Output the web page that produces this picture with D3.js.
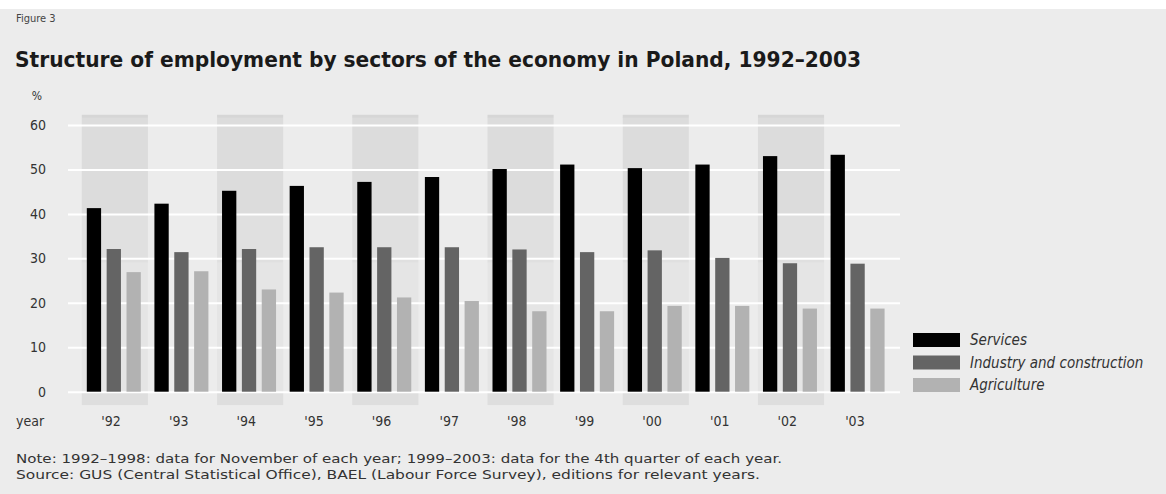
<!DOCTYPE html>
<html>
<head>
<meta charset="utf-8">
<script src="https://cdn.jsdelivr.net/npm/d3@7"></script>
<style>
  html, body { margin: 0; padding: 0; background: #ffffff; }
  svg { display: block; }
  text { font-stretch: condensed; }
</style>
</head>
<body>
<svg id="chart" width="1166" height="494"></svg>
<script>
const years = ["'92","'93","'94","'95","'96","'97","'98","'99","'00","'01","'02","'03"];
const seriesNames = ["Services", "Industry and construction", "Agriculture"];
const services    = [41.3, 42.3, 45.2, 46.3, 47.2, 48.3, 50.1, 51.1, 50.3, 51.1, 53.0, 53.3];
const industry    = [32.1, 31.4, 32.1, 32.5, 32.5, 32.5, 32.0, 31.4, 31.8, 30.1, 28.9, 28.8];
const agriculture = [26.9, 27.1, 23.0, 22.3, 21.2, 20.4, 18.1, 18.1, 19.3, 19.3, 18.7, 18.7];
const yTicks = [0, 10, 20, 30, 40, 50, 60];
const colors = ["#000000", "#646464", "#b2b2b2"];

const svg = d3.select("#chart");
const F = '"DejaVu Sans Condensed", "Liberation Sans Narrow", "Arial Narrow", sans-serif';

// panel background
svg.append("rect").attr("x", 0).attr("y", 9).attr("width", 1166).attr("height", 485).attr("fill", "#ececec");

const x = d3.scaleBand().domain(years).range([80.3, 891.7]).paddingInner(0).paddingOuter(0);
const xInner = d3.scaleBand().domain(seriesNames).range([6.5, 60.5]).paddingInner(0.28).paddingOuter(0);
const y = d3.scaleLinear().domain([0, 60]).range([391.7, 125]);

// shaded alternate columns (stepped shading)
const shadeBands = [
  {top: 62.3, bottom: 61.6, fill: "#d6d6d6"},
  {top: 61.6, bottom: 40, fill: "#dcdcdc"},
  {top: 40, bottom: 29, fill: "#e0e0e0"},
  {top: 29, bottom: 0, fill: "#e5e5e5"},
  {top: 0, bottom: -3, fill: "#dedede"}
];
const shaded = years.filter((d, i) => i % 2 === 0);
const gShade = svg.append("g");
shaded.forEach(yr => {
  shadeBands.forEach(b => {
    gShade.append("rect")
      .attr("x", x(yr) + 1.5).attr("width", x.bandwidth() - 1.5)
      .attr("y", y(b.top)).attr("height", y(b.bottom) - y(b.top))
      .attr("fill", b.fill);
  });
});

// gridlines
const grid = svg.append("g").attr("transform", "translate(68,0)")
  .call(d3.axisLeft(y).tickValues(yTicks).tickSize(-832).tickFormat(""));
grid.select(".domain").remove();
grid.selectAll(".tick line").attr("stroke", "#ffffff").attr("stroke-width", 2);

// y tick labels
const yAxis = svg.append("g").attr("transform", "translate(46,0)")
  .call(d3.axisLeft(y).tickValues(yTicks).tickSize(0).tickPadding(0));
yAxis.select(".domain").remove();
yAxis.selectAll("text").attr("font-family", F).attr("font-size", 14).attr("fill", "#333");

svg.append("text").attr("x", 37).attr("y", 100).attr("text-anchor", "middle")
  .attr("font-family", F).attr("font-size", 12).attr("fill", "#333").text("%");

// bars
const data = [services, industry, agriculture];
const gBars = svg.append("g");
years.forEach((yr, i) => {
  seriesNames.forEach((s, k) => {
    const v = data[k][i];
    gBars.append("rect")
      .attr("x", x(yr) + xInner(s)).attr("width", xInner.bandwidth())
      .attr("y", y(v)).attr("height", y(0) - y(v))
      .attr("fill", colors[k]);
  });
});

// x labels
const xAxis = svg.append("g").attr("transform", "translate(-3,416)")
  .call(d3.axisBottom(x).tickSize(0).tickPadding(0));
xAxis.select(".domain").remove();
xAxis.selectAll("text").attr("font-family", F).attr("font-size", 14).attr("fill", "#333").attr("dy", "0.71em");
svg.append("text").attr("x", 16).attr("y", 426).attr("font-family", F).attr("font-size", 14).attr("fill", "#333").text("year");

// titles
svg.append("text").attr("x", 16).attr("y", 22).attr("font-family", F).attr("font-size", 11).attr("fill", "#444").text("Figure 3");
svg.append("text").attr("x", 15).attr("y", 67).attr("font-family", F).attr("font-size", 21).attr("font-weight", "bold")
  .attr("fill", "#1a1a1a").attr("textLength", 846).attr("lengthAdjust", "spacingAndGlyphs")
  .text("Structure of employment by sectors of the economy in Poland, 1992\u20132003");

// legend
const legend = svg.append("g");
seriesNames.forEach((s, k) => {
  const ly = 333 + k * 22.5;
  legend.append("rect").attr("x", 913).attr("y", ly).attr("width", 47).attr("height", 14).attr("fill", colors[k]);
  legend.append("text").attr("x", 970).attr("y", ly + 12).attr("font-family", F).attr("font-size", 15)
    .attr("font-style", "italic").attr("fill", "#333").text(s);
});

// notes
svg.append("text").attr("x", 16).attr("y", 463).attr("font-family", F).attr("font-size", 13).attr("fill", "#333")
  .attr("textLength", 766).attr("lengthAdjust", "spacingAndGlyphs")
  .text("Note: 1992\u20131998: data for November of each year; 1999\u20132003: data for the 4th quarter of each year.");
svg.append("text").attr("x", 16).attr("y", 479).attr("font-family", F).attr("font-size", 13).attr("fill", "#333")
  .attr("textLength", 744).attr("lengthAdjust", "spacingAndGlyphs")
  .text("Source: GUS (Central Statistical Office), BAEL (Labour Force Survey), editions for relevant years.");
</script>
</body>
</html>
